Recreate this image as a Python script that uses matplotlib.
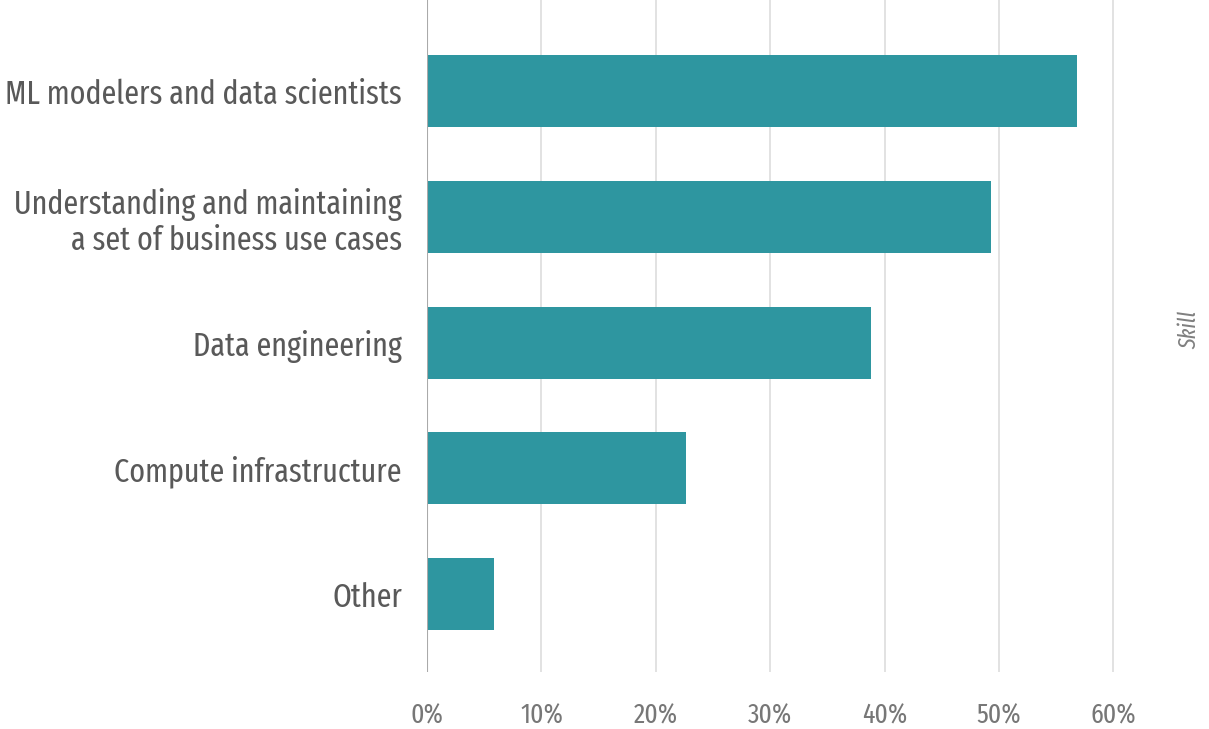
import matplotlib
matplotlib.use('Agg')
import matplotlib.pyplot as plt
from matplotlib.ticker import FuncFormatter

# Share of respondents per skill
skills = ['ML modelers and data scientists',
          'Understanding and maintaining\na set of business use cases',
          'Data engineering',
          'Compute infrastructure',
          'Other']
shares = [56.8, 49.3, 38.8, 22.6, 5.9]
xticks = [0, 10, 20, 30, 40, 50, 60]

plt.rcParams['font.family'] = ['Fira Sans Extra Condensed', 'Liberation Sans Narrow', 'DejaVu Sans']

fig = plt.figure(figsize=(12.09, 7.29), dpi=100)
ax = fig.add_axes([427 / 1209, 1 - 672 / 729, 0.5961, 672 / 729])

y = range(len(skills))
ax.barh(y, shares, height=0.573, color='#2e96a0', zorder=2)
ax.set_ylim(len(skills) - 1 + 0.62, -0.724)
ax.set_xlim(0, 63)

ax.set_yticks(list(y))
ax.set_yticklabels(skills, fontsize=23.5, color='#595959', linespacing=1.15)
ax.set_xticks(xticks)
ax.xaxis.set_major_formatter(FuncFormatter(lambda v, p: f'{v:.0f}%'))
ax.tick_params(axis='x', length=0, pad=22, labelsize=20, labelcolor='#777777')
ax.tick_params(axis='y', length=0, pad=18)

ax.grid(axis='x', color='#dddddd', linewidth=1.2, zorder=0)
ax.axvline(0, color='#aaaaaa', linewidth=1.5, zorder=3)
for s in ax.spines.values():
    s.set_visible(False)

fig.text(1190 / 1209, 1 - 330 / 729, 'Skill', rotation=90, style='italic',
         fontsize=17, color='#808080', ha='center', va='center')

fig.savefig('out.png', dpi=100)
